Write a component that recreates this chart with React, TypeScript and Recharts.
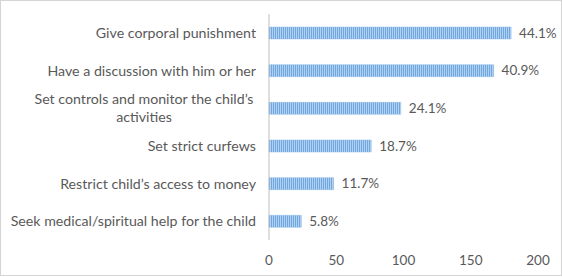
import React from "react";
import { BarChart, Bar, XAxis, YAxis, LabelList } from "recharts";

const categories = [
  "Give corporal punishment",
  "Have a discussion with him or her",
  "Set controls and monitor the child’s activities",
  "Set strict curfews",
  "Restrict child’s access to money",
  "Seek medical/spiritual help for the child",
];
const counts = [180, 167, 98, 76, 48, 24];
const percentLabels = ["44.1%", "40.9%", "24.1%", "18.7%", "11.7%", "5.8%"];
const xTicks = [0, 50, 100, 150, 200];

const data = categories.map((c, i) => ({ name: c, value: counts[i], label: percentLabels[i] }));

const FONT = "Lato, 'Open Sans', sans-serif";
const TEXT = "#595959";

const wrapMap: Record<string, string[]> = {
  "Set controls and monitor the child’s activities": ["Set controls and monitor the child’s", "activities"],
};

const YTick = (props: any) => {
  const { x, y, payload } = props;
  const lines = wrapMap[payload.value];
  if (lines) {
    const cx = x - 112;
    return (
      <g>
        {lines.map((l, i) => (
          <text key={i} x={cx} y={y + (i - (lines.length - 1) / 2) * 18} dy={5} textAnchor="middle" fill={TEXT} fontSize={14.2} fontFamily={FONT}>
            {l}
          </text>
        ))}
      </g>
    );
  }
  return (
    <text x={x} y={y} dy={5} textAnchor="end" fill={TEXT} fontSize={14.2} fontFamily={FONT}>
      {payload.value}
    </text>
  );
};

export default function App() {
  return (
    <div style={{ position: "absolute", left: 0, top: 0, width: 562, height: 276, border: "1px solid #d4d4d4", boxSizing: "border-box", background: "#fff" }}>
      <BarChart
        width={560}
        height={274}
        data={data}
        layout="vertical"
        margin={{ top: 13, right: 23, bottom: 5, left: 0 }}
        barSize={12}
      >
        <defs>
          <pattern id="stripes" width="2" height="4" patternUnits="userSpaceOnUse">
            <rect x="0" y="0" width="2" height="4" fill="#b2d1f1" />
            <rect x="0" y="0" width="1" height="4" fill="#6fa7e0" />
          </pattern>
        </defs>
        <XAxis
          type="number"
          domain={[0, 200]}
          ticks={xTicks}
          axisLine={false}
          tickLine={false}
          tick={{ fill: TEXT, fontSize: 13.5, fontFamily: FONT }}
          tickMargin={9}
          height={30}
        />
        <YAxis
          type="category"
          dataKey="name"
          width={268}
          axisLine={{ stroke: "#bfbfbf" }}
          tickLine={false}
          tick={<YTick />}
          tickMargin={7}
          interval={0}
        />
        <Bar dataKey="value" fill="url(#stripes)" stroke="#8dbbe8" strokeWidth={0.5} isAnimationActive={false}>
          <LabelList dataKey="label" position="right" offset={8} fill={TEXT} fontSize={13.5} fontFamily={FONT} />
        </Bar>
      </BarChart>
    </div>
  );
}
